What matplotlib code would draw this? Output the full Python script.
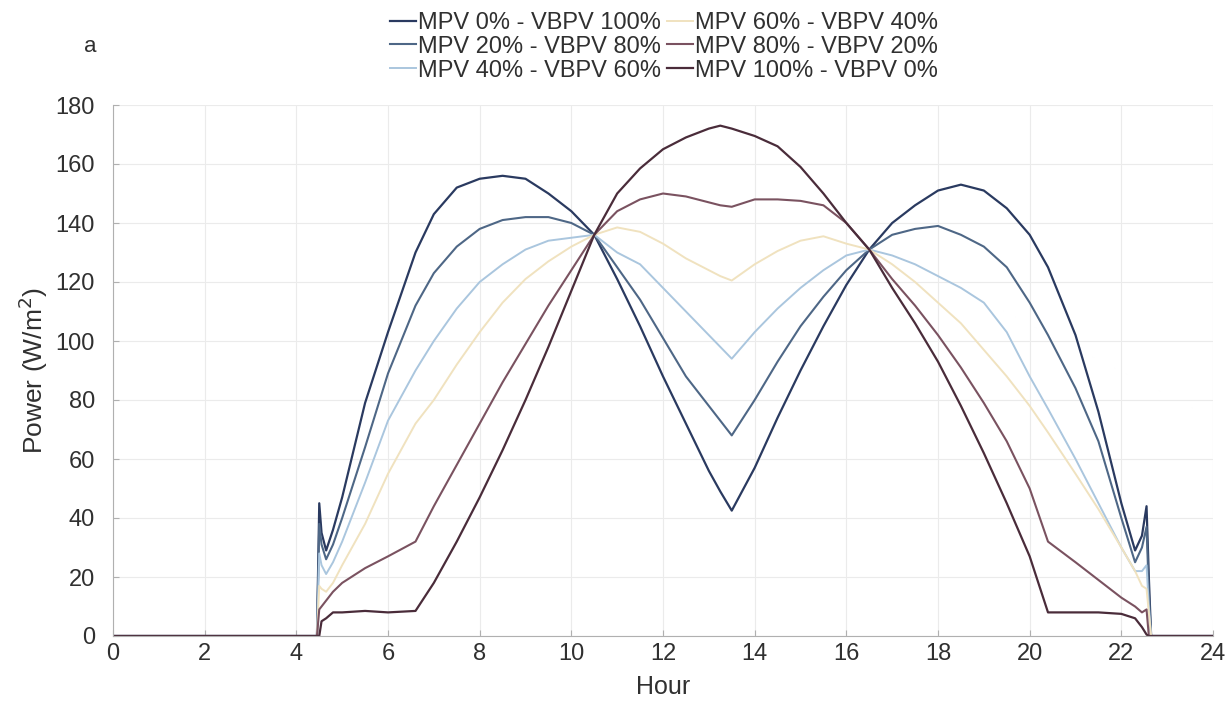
import matplotlib
matplotlib.use("Agg")
import matplotlib.pyplot as plt

plt.rcParams['font.family'] = ['Liberation Sans', 'DejaVu Sans']

hours = [0, 4.4, 4.45, 4.5, 4.55, 4.65, 4.8, 5.0, 5.5, 6.0, 6.6, 7.0, 7.5, 8.0, 8.5,
         9.0, 9.5, 10.0, 10.5, 11.0, 11.5, 12.0, 12.5, 13.0, 13.25, 13.5, 14.0, 14.5,
         15.0, 15.5, 16.0, 16.5, 17.0, 17.5, 18.0, 18.5, 19.0, 19.5, 20.0, 20.4, 21.0,
         21.5, 22.0, 22.3, 22.45, 22.55, 22.6, 22.65, 24]

mpv0 = [0, 0, 0, 45, 35, 29, 36, 47, 79, 103, 130, 143, 152, 155, 156,
        155, 150, 144, 136, 121, 105, 88, 72, 56, 49, 42.5, 57, 74,
        90, 105, 119, 131, 140, 146, 151, 153, 151, 145, 136, 125, 102,
        76, 45, 29, 34, 44, 20, 0, 0]
mpv20 = [0, 0, 0, 38, 31, 26, 31, 40, 64, 89, 112, 123, 132, 138, 141,
         142, 142, 140, 136, 125, 114, 101, 88, 78, 73, 68, 80, 93,
         105, 115, 124, 131, 136, 138, 139, 136, 132, 125, 113, 102, 84,
         66, 40, 25, 30, 37, 15, 0, 0]
mpv40 = [0, 0, 0, 28, 24, 21, 25, 32, 52, 73, 90, 100, 111, 120, 126,
         131, 134, 135, 136, 130, 126, 118, 110, 102, 98, 94, 103, 111,
         118, 124, 129, 131, 129, 126, 122, 118, 113, 103, 88, 77, 60,
         45, 30, 22, 22, 24, 10, 0, 0]
mpv60 = [0, 0, 0, 17, 16, 15, 18, 24, 38, 55, 72, 80, 92, 103, 113,
         121, 127, 132, 136, 138.5, 137, 133, 128, 124, 122, 120.5, 126, 130.5,
         134, 135.5, 133, 131, 126, 120, 113, 106, 97, 88, 78, 69, 55,
         43, 30, 22, 17, 16, 8, 0, 0]
mpv80 = [0, 0, 0, 9, 10, 12, 15, 18, 23, 27, 32, 44, 58, 72, 86,
         99, 112, 124, 136, 144, 148, 150, 149, 147, 146, 145.5, 148, 148,
         147.5, 146, 140, 131, 121, 112, 102, 91, 79, 66, 50, 32, 25,
         19, 13, 10, 8, 9, 0, 0, 0]
mpv100 = [0, 0, 0, 0, 5, 6, 8, 8, 8.5, 8, 8.5, 18, 32, 47, 63,
          80, 98, 117, 136, 150, 158.5, 165, 169, 172, 173, 172, 169.5, 166,
          159, 150, 140, 131, 118, 106, 93, 78, 62, 45, 27, 8, 8,
          8, 7.5, 6, 3, 0.5, 0, 0, 0]

labels = ["MPV 0% - VBPV 100%", "MPV 20% - VBPV 80%", "MPV 40% - VBPV 60%",
          "MPV 60% - VBPV 40%", "MPV 80% - VBPV 20%", "MPV 100% - VBPV 0%"]
colors = ['#2a3a60', '#4e6786', '#aac6de', '#f0e2bf', '#7a5260', '#4a2c3a']
widths = [1.6, 1.5, 1.4, 1.4, 1.5, 1.6]

fig = plt.figure(figsize=(12.31, 7.15), dpi=100)
ax = fig.add_axes([113/1231, 79/715, 1100/1231, 531/715])

series = [mpv0, mpv20, mpv40, mpv60, mpv80, mpv100]
for ys, lab, c, w in zip(series, labels, colors, widths):
    ax.plot(hours, ys, color=c, lw=w, label=lab)

ax.set_xlim(0, 24)
ax.set_ylim(0, 180)
ax.set_xticks(range(0, 25, 2))
ax.set_yticks(range(0, 181, 20))
ax.grid(True, color='#ebebeb', lw=0.8)
ax.set_axisbelow(True)
for s in ['top', 'right']:
    ax.spines[s].set_visible(False)
for s in ['left', 'bottom']:
    ax.spines[s].set_color('#b0b0b0')
    ax.spines[s].set_linewidth(0.8)
ax.tick_params(direction='in', length=4, color='#b0b0b0', labelsize=17,
               labelcolor='#303030')
ax.tick_params(axis='y', pad=13)
ax.tick_params(axis='x', pad=5)
ax.set_xlabel('Hour', fontsize=18, color='#303030', labelpad=7)
ax.set_ylabel('Power (W/m$^2$)', fontsize=19, color='#303030', labelpad=4)

fig.text(90/1231, 1 - 47/715, 'a', fontsize=16, color='#303030', ha='center', va='center')

leg = fig.legend(loc='upper center', bbox_to_anchor=(664/1231, 1.0), ncol=2,
                 frameon=False, fontsize=17, handlelength=1.1, handletextpad=0.1,
                 columnspacing=0.25, labelspacing=0.08, borderaxespad=0.1)
for t in leg.get_texts():
    t.set_color('#303030')

fig.savefig('out.png', dpi=100)
